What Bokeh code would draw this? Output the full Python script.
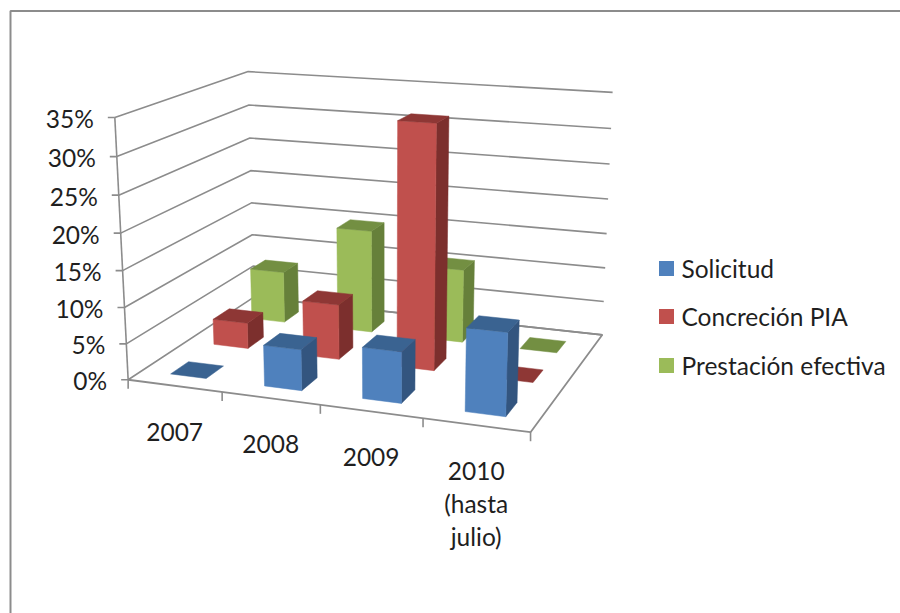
import numpy as np
from bokeh.embed import file_html
from bokeh.plotting import figure
from bokeh.resources import INLINE
from bokeh.core.properties import value

# Chart data (share of cases per year and stage)
years = ["2007", "2008", "2009", "2010"]
year_lines = [["2007"], ["2008"], ["2009"], ["2010", "(hasta", "julio)"]]
series = ["Solicitud", "Concreción PIA", "Prestación efectiva"]
solicitud = [0.0, 5.6, 6.9, 11.0]
concrecion = [3.7, 7.8, 33.6, 0.0]
prestacion = [7.6, 15.0, 10.6, 0.0]
tick_values = [0, 5, 10, 15, 20, 25, 30, 35]
tick_labels = ["0%", "5%", "10%", "15%", "20%", "25%", "30%", "35%"]

# front, side and top shades for each series
front_colors = ["#4F81BD", "#C0504D", "#9BBB59"]
side_colors = ["#33557F", "#7C2F2D", "#66803A"]
top_colors = ["#3A6391", "#8E3735", "#738F42"]
AXIS = "#8C8C8C"
TEXT = "#1F1F1F"
FONT = value("Lato")
FONT_SIZE = "24.5px"
V_MAX = 35.0

# Perspective camera: box corners (along years, depth, height) to page pixels
calib_box = [(0, 0, 0), (1, 0, 0), (0, 1, 0), (1, 1, 0), (0, 0, 1), (0, 1, 1), (1, 1, 1)]
calib_px = [(128, 379), (530, 432), (253, 297), (602, 334), (114, 117), (248, 71), (612, 92)]


def fit_camera():
    rows, rhs = [], []
    for (a, b, c), (x, y) in zip(calib_box, calib_px):
        rows.append([a, b, c, 1, 0, 0, 0, 0, -x * a, -x * b, -x * c])
        rows.append([0, 0, 0, 0, a, b, c, 1, -y * a, -y * b, -y * c])
        rhs += [x, y]
    sol = np.linalg.lstsq(np.array(rows, float), np.array(rhs, float), rcond=None)[0]
    return np.append(sol, 1.0).reshape(3, 4)


CAM = fit_camera()


def proj(u, v, h):
    x, y, w = CAM @ np.array([u, v, h / V_MAX, 1.0])
    return x / w, y / w


p = figure(width=900, height=613, x_range=(0, 900), y_range=(613, 0),
           output_backend="svg", toolbar_location=None, min_border=0,
           outline_line_color=None, background_fill_color="white",
           border_fill_color="white")
p.axis.visible = False
p.grid.visible = False


def seg(points, color=AXIS, width=1.6):
    xs, ys = zip(*points)
    p.line(list(xs), list(ys), line_color=color, line_width=width)


def face(corners, color):
    xs, ys = zip(*corners)
    p.patch(list(xs), list(ys), fill_color=color, line_color=color, line_width=0.5)


# outer chart frame, open on the bottom and right
seg([(10, 613), (10, 10.5), (900, 10.5)], width=2)

# walls, floor and axes
for t in tick_values:
    seg([proj(0, 0, t), proj(0, 1, t), proj(1, 1, t)])
    ax, ay = proj(0, 0, t)
    seg([(ax - 7, ay), (ax, ay)])
seg([proj(0, 0, 0), proj(0, 0, V_MAX)])
seg([proj(0, 0, 0), proj(1, 0, 0), proj(1, 1, 0), proj(0, 1, 0)], width=1.8)
for i in range(len(years) + 1):
    tx, ty = proj(i / len(years), 0, 0)
    seg([(tx, ty), (tx, ty + 9)])

# bars, painted from the back row to the front row
U_HALF = 0.048
V_HALF = 0.066
V_CENTERS = [0.165, 0.495, 0.816]
all_series = [solicitud, concrecion, prestacion]
for s in reversed(range(len(series))):
    for i, val in enumerate(all_series[s]):
        uc = (i + 0.5) / len(years)
        u0, u1 = uc - U_HALF, uc + U_HALF
        v0, v1 = V_CENTERS[s] - V_HALF, V_CENTERS[s] + V_HALF
        if val > 0:
            face([proj(u1, v0, 0), proj(u1, v1, 0), proj(u1, v1, val), proj(u1, v0, val)], side_colors[s])
            face([proj(u0, v0, 0), proj(u1, v0, 0), proj(u1, v0, val), proj(u0, v0, val)], front_colors[s])
        face([proj(u0, v0, val), proj(u1, v0, val), proj(u1, v1, val), proj(u0, v1, val)], top_colors[s])

# value axis labels
for t, lab in zip(tick_values, tick_labels):
    ax, ay = proj(0, 0, t)
    p.text([ax - 21], [ay + 1], text=[lab], text_font=FONT, text_font_size=FONT_SIZE,
           text_color=TEXT, text_align="right", text_baseline="middle")

# year labels below the front edge
LINE_STEP = 32.5
for i, lines in enumerate(year_lines):
    tx, ty = proj((i + 0.5) / len(years), 0, 0)
    for k, line in enumerate(lines):
        p.text([tx], [ty + 46 + k * LINE_STEP], text=[line], text_font=FONT,
               text_font_size=FONT_SIZE, text_color=TEXT, text_align="center",
               text_baseline="middle")

# legend
legend_rows = [268, 316, 365]
for name, color, yc in zip(series, front_colors, legend_rows):
    p.rect([666], [yc], width=15, height=15, fill_color=color, line_color=None)
    p.text([681], [yc], text=[name], text_font=FONT, text_font_size=FONT_SIZE,
           text_color=TEXT, text_align="left", text_baseline="middle")

open("out.html", "w").write(file_html(p, INLINE))
